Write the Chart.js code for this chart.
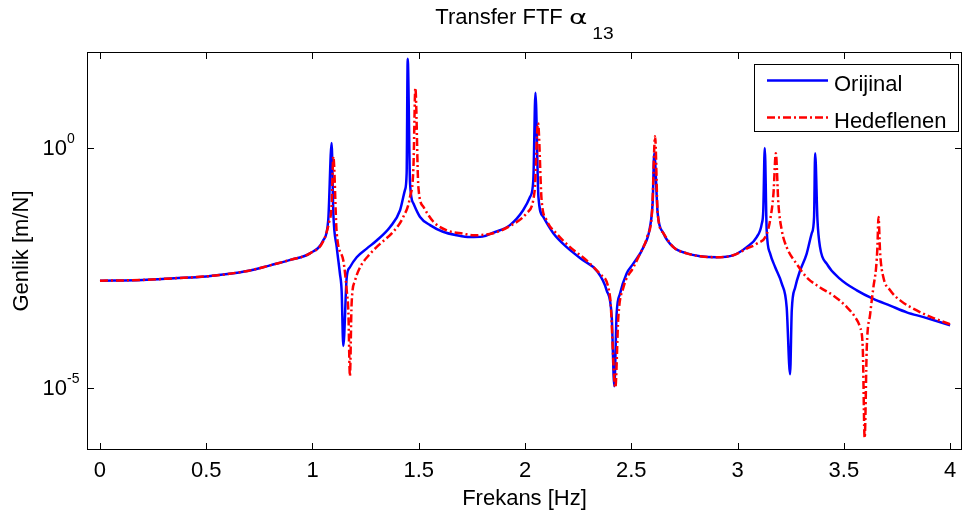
<!DOCTYPE html>
<html>
<head>
<meta charset="utf-8">
<script src="https://cdn.jsdelivr.net/npm/chart.js@4/dist/chart.umd.min.js"></script>
<style>
  html, body { margin: 0; padding: 0; background: #fff; }
  #wrap { width: 965px; height: 517px; }
</style>
</head>
<body>
<div id="wrap"><canvas id="c" width="965" height="517"></canvas></div>
<script>
// ---- data ----
const freqBlue = [0, 0.2, 0.35, 0.5, 0.6, 0.7, 0.75, 0.8, 0.9, 0.988, 1.05, 1.074, 1.090, 1.098, 1.114, 1.129, 1.137, 1.145, 1.161, 1.176, 1.208, 1.255, 1.302, 1.365, 1.412, 1.435, 1.443, 1.448, 1.459, 1.475, 1.506, 1.553, 1.614, 1.678, 1.741, 1.80, 1.850, 1.929, 1.991, 2.024, 2.039, 2.049, 2.063, 2.086, 2.133, 2.196, 2.275, 2.337, 2.384, 2.408, 2.420, 2.431, 2.447, 2.478, 2.510, 2.557, 2.588, 2.601, 2.608, 2.624, 2.651, 2.698, 2.761, 2.824, 2.902, 2.979, 3.043, 3.090, 3.114, 3.121, 3.128, 3.137, 3.153, 3.177, 3.208, 3.231, 3.247, 3.255, 3.271, 3.294, 3.325, 3.349, 3.360, 3.365, 3.376, 3.388, 3.420, 3.482, 3.561, 3.639, 3.718, 3.796, 3.875, 4.0];
const ampBlue = [1.70e-3, 1.76e-3, 1.91e-3, 2.09e-3, 2.34e-3, 2.75e-3, 3.09e-3, 3.55e-3, 4.68e-3, 6.31e-3, 1.17e-2, 3.09e-2, 1.26, 4.37e-2, 8.51e-3, 2.40e-3, 1.07e-3, 7.41e-5, 2.00e-3, 3.24e-3, 5.25e-3, 7.94e-3, 1.17e-2, 2.24e-2, 5.01e-2, 0.132, 0.295, 72.4, 0.182, 6.92e-2, 3.63e-2, 2.45e-2, 1.78e-2, 1.51e-2, 1.38e-2, 1.41e-2, 1.70e-2, 2.45e-2, 5.01e-2, 9.55e-2, 0.214, 14.1, 9.55e-2, 3.63e-2, 1.66e-2, 8.51e-3, 4.47e-3, 2.75e-3, 1.07e-3, 2.95e-4, 1.07e-5, 3.47e-4, 9.12e-4, 2.40e-3, 3.89e-3, 8.51e-3, 2.24e-2, 8.13e-2, 0.776, 4.37e-2, 1.66e-2, 8.51e-3, 6.31e-3, 5.50e-3, 5.25e-3, 5.75e-3, 8.51e-3, 1.38e-2, 2.63e-2, 5.01e-2, 1.0, 1.91e-2, 6.31e-3, 3.24e-3, 1.48e-3, 4.79e-4, 1.91e-5, 4.07e-4, 1.23e-3, 2.75e-3, 6.17e-3, 1.66e-2, 3.63e-2, 0.776, 3.09e-2, 8.51e-3, 3.80e-3, 1.86e-3, 1.07e-3, 7.08e-4, 5.13e-4, 3.72e-4, 2.95e-4, 2.00e-4];

const freqRed = [0, 0.2, 0.35, 0.5, 0.6, 0.7, 0.75, 0.8, 0.9, 0.988, 1.05, 1.078, 1.090, 1.098, 1.114, 1.145, 1.161, 1.169, 1.176, 1.184, 1.200, 1.224, 1.271, 1.318, 1.380, 1.427, 1.459, 1.475, 1.484, 1.498, 1.522, 1.569, 1.632, 1.710, 1.757, 1.85, 1.929, 2.008, 2.045, 2.061, 2.078, 2.102, 2.149, 2.212, 2.290, 2.353, 2.400, 2.425, 2.439, 2.463, 2.510, 2.541, 2.575, 2.598, 2.612, 2.624, 2.651, 2.698, 2.761, 2.824, 2.902, 2.979, 3.043, 3.090, 3.137, 3.153, 3.169, 3.180, 3.192, 3.208, 3.231, 3.278, 3.325, 3.388, 3.451, 3.514, 3.553, 3.576, 3.589, 3.598, 3.608, 3.624, 3.639, 3.652, 3.658, 3.663, 3.671, 3.686, 3.718, 3.765, 3.843, 3.922, 4.0];
const ampRed = [1.70e-3, 1.76e-3, 1.91e-3, 2.09e-3, 2.34e-3, 2.75e-3, 3.09e-3, 3.55e-3, 4.68e-3, 6.31e-3, 1.12e-2, 2.82e-2, 6.31e-2, 0.661, 1.66e-2, 4.47e-3, 1.07e-3, 3.47e-4, 1.74e-5, 5.62e-4, 1.70e-3, 3.24e-3, 6.17e-3, 1.00e-2, 1.78e-2, 3.63e-2, 9.55e-2, 0.407, 17.8, 0.155, 5.89e-2, 2.88e-2, 1.91e-2, 1.62e-2, 1.51e-2, 1.66e-2, 2.34e-2, 4.37e-2, 0.126, 3.31, 8.13e-2, 3.09e-2, 1.62e-2, 8.51e-3, 4.47e-3, 2.34e-3, 7.76e-4, 1.00e-5, 2.95e-4, 1.23e-3, 3.24e-3, 6.17e-3, 1.41e-2, 5.01e-2, 1.74, 4.37e-2, 1.66e-2, 8.51e-3, 6.31e-3, 5.50e-3, 5.25e-3, 5.75e-3, 7.94e-3, 1.00e-2, 1.58e-2, 3.09e-2, 0.112, 0.776, 6.92e-2, 1.91e-2, 8.51e-3, 3.80e-3, 2.00e-3, 1.23e-3, 8.32e-4, 4.79e-4, 2.95e-4, 1.82e-4, 6.92e-5, 8.91e-7, 6.92e-5, 3.47e-4, 1.23e-3, 3.24e-3, 8.51e-3, 3.63e-2, 6.17e-3, 2.00e-3, 1.07e-3, 6.61e-4, 4.07e-4, 2.82e-4, 2.09e-4];

const xTickValues = [0, 0.5, 1, 1.5, 2, 2.5, 3, 3.5, 4];
const xTickLabels = ['0', '0.5', '1', '1.5', '2', '2.5', '3', '3.5', '4'];
const yTickValues = [1e-5, 1];
const yTickExponents = ['-5', '0'];
const seriesNames = ['Orijinal', 'Hedeflenen'];
const titleMain = 'Transfer FTF ';
const titleGreek = 'α';
const titleSub = '13';
const xTitle = 'Frekans [Hz]';
const yTitle = 'Genlik [m/N]';

const FONT = '"Liberation Sans", Arial, Helvetica, sans-serif';
const BLUE = '#0000FF';
const RED = '#FF0000';
const DASHDOT = [8, 3, 2, 3];

function toPts(xs, ys) { return xs.map((x, i) => ({ x: x, y: ys[i] })); }

const decor = {
  id: 'decor',
  afterDraw(chart) {
    const ctx = chart.ctx;
    const a = chart.chartArea;
    const xs = chart.scales.x, ys = chart.scales.y;
    ctx.save();
    ctx.strokeStyle = '#000';
    ctx.fillStyle = '#000';
    ctx.lineWidth = 1;
    // box
    ctx.strokeRect(a.left + 0.5, a.top + 0.5, a.right - a.left - 1, a.bottom - a.top - 1);
    // ticks
    const tl = 7;
    ctx.beginPath();
    xTickValues.forEach(v => {
      const px = Math.round(xs.getPixelForValue(v)) + 0.5;
      ctx.moveTo(px, a.bottom); ctx.lineTo(px, a.bottom - tl);
      ctx.moveTo(px, a.top); ctx.lineTo(px, a.top + tl);
    });
    yTickValues.forEach(v => {
      const py = Math.round(ys.getPixelForValue(v)) + 0.5;
      ctx.moveTo(a.left, py); ctx.lineTo(a.left + tl, py);
      ctx.moveTo(a.right, py); ctx.lineTo(a.right - tl, py);
    });
    ctx.stroke();
    // x tick labels
    ctx.font = '22px ' + FONT;
    ctx.textAlign = 'center';
    ctx.textBaseline = 'alphabetic';
    xTickValues.forEach((v, i) => {
      ctx.fillText(xTickLabels[i], xs.getPixelForValue(v), 477);
    });
    // y tick labels 10^n
    yTickValues.forEach((v, i) => {
      const py = ys.getPixelForValue(v);
      const baseRight = a.left - 20;
      ctx.font = '22px ' + FONT;
      ctx.textAlign = 'right';
      ctx.fillText('10', baseRight, py + 7.5);
      ctx.font = '14px ' + FONT;
      ctx.textAlign = 'left';
      ctx.fillText(yTickExponents[i], baseRight, py - 5);
    });
    // axis titles
    ctx.font = '22px ' + FONT;
    ctx.textAlign = 'center';
    ctx.fillText(xTitle, (a.left + a.right) / 2, 505);
    ctx.save();
    ctx.translate(28, (a.top + a.bottom) / 2);
    ctx.rotate(-Math.PI / 2);
    ctx.fillText(yTitle, 0, 0);
    ctx.restore();
    // title
    ctx.textAlign = 'left';
    ctx.font = '22px ' + FONT;
    const w1 = ctx.measureText(titleMain).width;
    ctx.font = '20px "DejaVu Sans", ' + FONT;
    const gScale = 1.4;
    const w2 = ctx.measureText(titleGreek).width * gScale;
    ctx.font = '16px ' + FONT;
    const w3 = ctx.measureText(titleSub).width * 1.2;
    let tx = (a.left + a.right) / 2 - (w1 + w2 + 5 + w3) / 2;
    ctx.font = '22px ' + FONT;
    ctx.fillText(titleMain, tx, 23.5);
    tx += w1;
    ctx.save();
    ctx.font = '20px "DejaVu Sans", ' + FONT;
    ctx.translate(tx, 23.5);
    ctx.scale(gScale, 1);
    ctx.fillText(titleGreek, 0, 0);
    ctx.restore();
    tx += w2 + 5;
    ctx.save();
    ctx.font = '16px ' + FONT;
    ctx.translate(tx, 38.5);
    ctx.scale(1.2, 1);
    ctx.fillText(titleSub, 0, 0);
    ctx.restore();
    // legend
    const lx = 754, ly = 64, lw = 204, lh = 67;
    ctx.fillStyle = '#fff';
    ctx.fillRect(lx, ly, lw, lh);
    ctx.strokeStyle = '#000';
    ctx.lineWidth = 1;
    ctx.strokeRect(lx + 0.5, ly + 0.5, lw, lh);
    const rows = [{ y: 80.5, c: BLUE, d: [] }, { y: 117.5, c: RED, d: DASHDOT }];
    rows.forEach((r, i) => {
      ctx.strokeStyle = r.c;
      ctx.lineWidth = 2.5;
      ctx.setLineDash(r.d);
      ctx.beginPath();
      ctx.moveTo(767, r.y); ctx.lineTo(828, r.y);
      ctx.stroke();
      ctx.setLineDash([]);
      ctx.fillStyle = '#000';
      ctx.font = '22px ' + FONT;
      ctx.textAlign = 'left';
      ctx.fillText(seriesNames[i], 834, r.y + 10.5);
    });
    ctx.restore();
  }
};

new Chart(document.getElementById('c'), {
  type: 'line',
  data: {
    datasets: [
      { label: seriesNames[1], data: toPts(freqRed, ampRed), borderColor: RED, borderWidth: 2.5, borderDash: DASHDOT, pointRadius: 0, cubicInterpolationMode: 'monotone', fill: false, order: 0 },
      { label: seriesNames[0], data: toPts(freqBlue, ampBlue), borderColor: BLUE, borderWidth: 2.5, pointRadius: 0, cubicInterpolationMode: 'monotone', fill: false, order: 1 }
    ]
  },
  options: {
    responsive: false,
    animation: false,
    devicePixelRatio: 1,
    layout: { padding: { top: 52, right: 3, left: 0, bottom: 0 } },
    plugins: { legend: { display: false }, title: { display: false }, tooltip: { enabled: false } },
    scales: {
      x: {
        type: 'linear', min: -0.061, max: 4.056,
        grid: { display: false }, border: { display: false },
        ticks: { display: false },
        afterFit(s) { s.height = 67; }
      },
      y: {
        type: 'logarithmic', min: 5e-7, max: 100,
        grid: { display: false }, border: { display: false },
        ticks: { display: false },
        afterFit(s) { s.width = 87; }
      }
    }
  },
  plugins: [decor]
});
</script>
</body>
</html>
